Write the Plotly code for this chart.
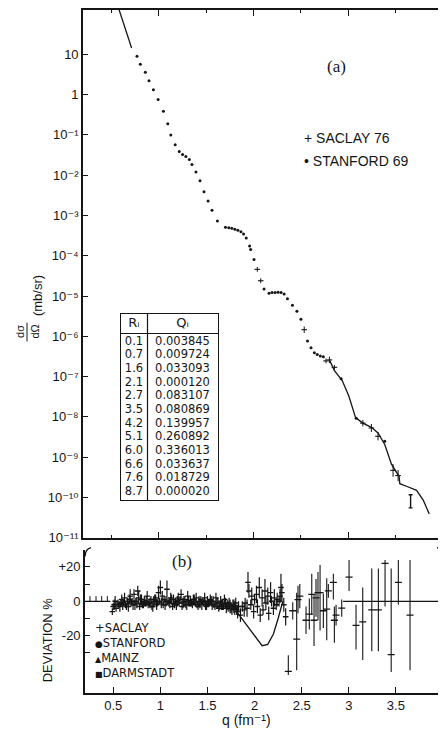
import plotly.graph_objects as go

W, H = 446, 738
PAGE_OFFSET = 8  # default body margin of the written page

# ---- panel (a): elastic cross section -------------------------------------
stanford_q = [0.770, 0.805, 0.858, 0.897, 0.943, 0.993, 1.049, 1.095, 1.127, 1.173,
              1.216, 1.251, 1.286, 1.322, 1.350, 1.392, 1.435, 1.477, 1.520, 1.562,
              1.619, 1.704, 1.739, 1.771, 1.803, 1.835, 1.867, 1.895, 1.923, 1.959,
              1.970, 2.005, 2.111, 2.164, 2.196, 2.228, 2.259, 2.291, 2.323, 2.358,
              2.411, 2.458, 2.500, 2.570, 2.607, 2.642, 2.673, 2.705, 2.737, 2.925,
              3.084, 3.385]
stanford_xs = [8.9, 5.7, 3.6, 2.2, 1.32, 0.755, 0.385, 0.189, 0.100, 0.057,
               0.0385, 0.0325, 0.029, 0.0245, 0.0185, 0.0120, 7.3e-3, 3.9e-3, 2.29e-3, 1.35e-3,
               7.3e-4, 5.1e-4, 4.95e-4, 4.8e-4, 4.55e-4, 4.3e-4, 3.95e-4, 3.45e-4, 2.75e-4, 1.75e-4,
               1.43e-4, 8.1e-5, 1.5e-5, 1.18e-5, 1.22e-5, 1.22e-5, 1.25e-5, 1.22e-5, 1.12e-5, 8.6e-6,
               5.9e-6, 4.2e-6, 2.64e-6, 7.6e-7, 5.2e-7, 3.9e-7, 3.55e-7, 3.25e-7, 3.1e-7, 8.8e-8,
               9.3e-9, 2.5e-9]

saclay_q = [2.040, 2.076, 2.535, 2.765, 2.801, 2.854, 3.154, 3.244, 3.314, 3.473, 3.526]
saclay_xs = [4.6e-5, 2.4e-5, 1.46e-6, 2.45e-7, 2.6e-7, 1.7e-7, 7.0e-9, 5.3e-9, 3.3e-9, 4.7e-10, 3.5e-10]
saclay_err_dec = [0.06, 0.06, 0.08, 0.06, 0.08, 0.06, 0.08, 0.10, 0.10, 0.16, 0.14]

last_q = [3.658]
last_xs = [7.9e-11]
last_hi = [1.17e-10]
last_lo = [5.5e-11]

theory_q = [0.572, 0.625, 0.678, 0.713, None,
            2.801, 2.854, 2.936, 3.006, 3.077, 3.154, 3.244, 3.314, 3.385, 3.456,
            3.537, 3.544, 3.615, 3.721, 3.791, 3.855]
theory_xs = [148, 64, 27.5, 14.3, None,
             2.6e-7, 1.4e-7, 8.0e-8, 3.3e-8, 9.6e-9, 7.0e-9, 5.5e-9, 4.0e-9, 2.07e-9, 6.7e-10,
             3.3e-10, 2.2e-10, 1.9e-10, 1.5e-10, 8.6e-11, 3.9e-11]

decade_vals = [1e-11, 1e-10, 1e-9, 1e-8, 1e-7, 1e-6, 1e-5, 1e-4, 1e-3, 1e-2, 1e-1, 1, 10]
decade_text = ["10⁻¹¹", "10⁻¹⁰", "10⁻⁹", "10⁻⁸", "10⁻⁷", "10⁻⁶", "10⁻⁵", "10⁻⁴",
               "10⁻³", "10⁻²", "10⁻¹", "1", "10"]

table_r = ["0.1", "0.7", "1.6", "2.1", "2.7", "3.5", "4.2", "5.1", "6.0", "6.6", "7.6", "8.7"]
table_qi = ["0.003845", "0.009724", "0.033093", "0.000120", "0.083107", "0.080869",
            "0.139957", "0.260892", "0.336013", "0.033637", "0.018729", "0.000020"]
table_head = ["Rᵢ", "Qᵢ"]

# ---- panel (b): deviation -------------------------------------------------
dense_q = [0.49, 0.51, 0.53, 0.55, 0.57, 0.58, 0.60, 0.62, 0.63, 0.65,
           0.66, 0.68, 0.69, 0.71, 0.72, 0.74, 0.75, 0.77, 0.78, 0.80,
           0.81, 0.83, 0.84, 0.86, 0.87, 0.89, 0.90, 0.92, 0.93, 0.95,
           0.96, 0.98, 0.99, 1.01, 1.02, 1.04, 1.05, 1.07, 1.08, 1.10,
           1.11, 1.13, 1.14, 1.16, 1.17, 1.19, 1.20, 1.22, 1.23, 1.25,
           1.26, 1.28, 1.29, 1.31, 1.32, 1.34, 1.35, 1.37, 1.38, 1.40,
           1.41, 1.43, 1.44, 1.46, 1.47, 1.49, 1.50, 1.52, 1.53, 1.55,
           1.56, 1.58, 1.59, 1.61, 1.62, 1.64, 1.65, 1.67, 1.68, 1.70,
           1.71, 1.73, 1.74, 1.76, 1.77, 1.79, 1.80, 1.82, 1.83, 1.85,
           1.87, 1.89, 1.90, 1.92, 1.93, 1.94, 1.96, 1.97, 1.99, 2.00,
           2.02, 2.03, 2.05, 2.06, 2.08, 2.09, 2.11, 2.12, 2.14, 2.15,
           2.17, 2.18, 2.20, 2.21, 2.23, 2.24, 2.26, 2.27, 2.28, 2.29,
           2.31, 2.33,
           0.50, 0.52, 0.56, 0.59, 0.61, 0.64, 0.67, 0.70, 0.73, 0.76,
           0.79, 0.82, 0.85, 0.88, 0.91, 0.94, 0.97, 1.00, 1.03, 1.06,
           1.09, 1.12, 1.15, 1.18, 1.21, 1.24, 1.27, 1.30, 1.33, 1.36,
           1.39, 1.42, 1.45, 1.48, 1.51, 1.54, 1.57, 1.60, 1.63, 1.66,
           1.69, 1.72, 1.75, 1.78, 1.81]
dense_dev = [-6, -2, -4, -1, -3, -1, -2, 2, -2, 0,
             -3, 3, -1, -2, 4, 0, -1, 2, -3, 1,
             -2, 0, -1, 3, -2, -1, 1, -3, 0, 2,
             -2, 5, 0, -1, 3, 1, -2, 7, 0, -1,
             2, -3, 1, 0, -2, 2, -1, 4, -3, 0,
             1, -2, 3, -1, 0, -2, 1, -1, 2, -3,
             0, 1, -2, -1, 2, -3, 0, -1, 1, -2,
             0, -3, 2, -1, -4, 0, -2, -3, 1, -4,
             -2, -1, -3, -5, -2, -4, -1, -6, -3, -8,
             -3, -5, -1, -4, 11, 6, -2, 3, -6, 1,
             4, -3, 8, -8, 2, -5, 6, -1, 3, -7,
             5, 0, -4, 2, -2, 1, 0, 3, 8, 5,
             -2, -9,
             -3, 0, -2, 1, -1, -3, 1, 0, -2, 6,
             1, -2, 0, -1, -3, 1, -1, 8, -2, 0,
             -1, 1, -2, 0, 1, -1, -2, 0, -1, 1,
             -2, -1, 0, -2, -1, 0, -2, -1, -3, -2,
             -1, -3, -4, -3, -5]
dense_err = [2, 3, 2, 2, 3, 2, 3, 3, 2, 2,
             3, 4, 2, 3, 3, 2, 3, 4, 2, 3,
             2, 3, 2, 3, 2, 3, 2, 3, 3, 2,
             3, 4, 2, 3, 3, 2, 3, 5, 2, 3,
             3, 2, 3, 2, 3, 3, 2, 3, 2, 3,
             2, 3, 3, 2, 3, 2, 3, 2, 3, 2,
             3, 2, 3, 2, 3, 2, 3, 2, 3, 3,
             3, 2, 3, 3, 2, 3, 3, 2, 3, 3,
             3, 3, 4, 3, 3, 4, 3, 4, 3, 4,
             3, 4, 3, 5, 6, 4, 3, 5, 4, 3,
             5, 4, 6, 4, 5, 3, 7, 4, 5, 4,
             6, 3, 4, 5, 3, 4, 3, 4, 8, 5,
             4, 5,
             2, 3, 2, 3, 2, 2, 3, 2, 3, 3,
             3, 2, 3, 2, 2, 3, 2, 4, 2, 3,
             2, 3, 2, 3, 2, 3, 2, 3, 2, 3,
             2, 3, 2, 3, 2, 3, 2, 3, 2, 3,
             3, 3, 3, 4, 3]

sparse_q = [2.358, 2.405, 2.447, 2.461, 2.480, 2.546, 2.581, 2.607, 2.631, 2.652,
            2.673, 2.695, 2.730, 2.766, 2.783, 2.836, 2.847, 2.865, 2.925, 3.003,
            3.077, 3.148, 3.244, 3.314, 3.385, 3.450, 3.526, 3.650]
sparse_dev = [-40.7, -5.5, -22, 1, 3, -11, -7.4, 4, -11, 2,
              5, 5, -5.5, -4.6, 6, 11, -11, -8, -4, 14,
              -14, -12, -5, -5, 22, -31, 11, -8]
sparse_up = [9.4, 5, 27, 8, 7, 8, 9, 12, 15, 11,
             12, 16, 10, 18, 4, 5, 8, 6, 5, 10,
             12, 20, 24, 24, 2, 50, 13, 32]
sparse_dn = [2, 5, 18, 8, 7, 8, 9, 12, 15, 11,
             16, 22, 10, 18, 4, 10, 13, 6, 5, 8,
             14, 22, 24, 24, 25, 10, 13, 32]

darm_q = [0.253, 0.317, 0.377, 0.437]
darm_dev = [0, 0, 0, 0]
darm_up = [3, 3, 3, 3]

fit_q = [0.2, 0.47, None,
         1.76, 1.78, 1.83, 1.92, 2.01, 2.08, 2.14, 2.20, 2.25, 2.29, 2.30, None,
         2.94, 4.0]
fit_dev = [0, 0, None,
           -2, -3, -7.5, -14, -21, -25.8, -25, -19, -10, -3, 0, None,
           0, 0]


def px(x):
    return min(1.0, max(0.0, (x - PAGE_OFFSET) / W))


def py(y):
    return min(1.0, max(0.0, 1 - (y - PAGE_OFFSET) / H))


INK = "#151515"
SANS = "Liberation Sans, DejaVu Sans, Arial, sans-serif"
WIDE = "DejaVu Sans, Verdana, sans-serif"
SERIF = "Liberation Serif, Times New Roman, serif"

fig = go.Figure()

# (a)
fig.add_trace(go.Scatter(x=theory_q, y=theory_xs, mode="lines",
                         line=dict(color=INK, width=1.3), xaxis="x", yaxis="y",
                         showlegend=False, connectgaps=False))
fig.add_trace(go.Scatter(x=stanford_q, y=stanford_xs, mode="markers",
                         marker=dict(symbol="circle", size=3, color=INK),
                         xaxis="x", yaxis="y", showlegend=False))
fig.add_trace(go.Scatter(
    x=saclay_q, y=saclay_xs, mode="markers",
    marker=dict(symbol="line-ew", size=4, line=dict(color=INK, width=1.1)),
    error_y=dict(type="data", symmetric=False,
                 array=[v * (10 ** d - 1) for v, d in zip(saclay_xs, saclay_err_dec)],
                 arrayminus=[v * (1 - 10 ** -d) for v, d in zip(saclay_xs, saclay_err_dec)],
                 color=INK, thickness=1, width=0),
    xaxis="x", yaxis="y", showlegend=False))
fig.add_trace(go.Scatter(
    x=last_q, y=last_xs, mode="markers", marker=dict(size=1, color=INK),
    error_y=dict(type="data", symmetric=False,
                 array=[h - v for h, v in zip(last_hi, last_xs)],
                 arrayminus=[v - lo for v, lo in zip(last_xs, last_lo)],
                 color=INK, thickness=1.4, width=2),
    xaxis="x", yaxis="y", showlegend=False))

# R_i / Q_i table, drawn as text on its own small axes (row index downwards)
rows = list(range(len(table_r)))
fig.add_trace(go.Scatter(x=[13] * len(rows), y=rows, mode="text", text=table_r,
                         textfont=dict(family=WIDE, size=11.5, color=INK),
                         xaxis="x3", yaxis="y3", showlegend=False, hoverinfo="skip"))
fig.add_trace(go.Scatter(x=[61.5] * len(rows), y=rows, mode="text", text=table_qi,
                         textfont=dict(family=WIDE, size=11.5, color=INK),
                         xaxis="x3", yaxis="y3", showlegend=False, hoverinfo="skip"))
fig.add_trace(go.Scatter(x=[13, 61.5], y=[-1.35, -1.35], mode="text", text=table_head,
                         textfont=dict(family=WIDE, size=13, color=INK),
                         xaxis="x3", yaxis="y3", showlegend=False, hoverinfo="skip"))

# (b)
fig.add_trace(go.Scatter(x=fit_q, y=fit_dev, mode="lines",
                         line=dict(color=INK, width=1.3), xaxis="x2", yaxis="y2",
                         showlegend=False, connectgaps=False))
fig.add_trace(go.Scatter(
    x=darm_q, y=darm_dev, mode="markers", marker=dict(size=1, color=INK),
    error_y=dict(type="data", symmetric=False, array=darm_up, arrayminus=darm_dev,
                 color=INK, thickness=1, width=0),
    xaxis="x2", yaxis="y2", showlegend=False))
fig.add_trace(go.Scatter(
    x=dense_q, y=dense_dev, mode="markers",
    marker=dict(symbol="line-ew", size=4, line=dict(color=INK, width=1.4)),
    error_y=dict(type="data", array=dense_err, color=INK, thickness=1.2, width=0),
    xaxis="x2", yaxis="y2", showlegend=False))
fig.add_trace(go.Scatter(
    x=sparse_q, y=sparse_dev, mode="markers",
    marker=dict(symbol="line-ew", size=5, line=dict(color=INK, width=1.3)),
    error_y=dict(type="data", symmetric=False, array=sparse_up, arrayminus=sparse_dn,
                 color=INK, thickness=1.1, width=0),
    xaxis="x2", yaxis="y2", showlegend=False))

axis_common = dict(showline=True, linecolor=INK, linewidth=1.6, ticks="inside",
                   tickcolor=INK, tickwidth=1.2, showgrid=False, zeroline=False,
                   tickfont=dict(family=SANS, size=13, color=INK))
hidden = dict(showgrid=False, zeroline=False, showticklabels=False, ticks="",
              showline=True, mirror=True, linecolor=INK, linewidth=1.2)

fig.update_layout(
    width=W, height=H,
    margin=dict(l=0, r=0, t=0, b=0),
    paper_bgcolor="white", plot_bgcolor="rgba(0,0,0,0)",
    xaxis=dict(axis_common, domain=[px(83), px(443)], range=[0.2, 4.0], anchor="y",
               tickvals=[1, 2, 3], ticklen=6, showticklabels=False, mirror="ticks",
               minor=dict(dtick=0.5, tick0=0, ticks="inside", ticklen=3, tickcolor=INK)),
    # top of the frame sits at the very top of the figure (page y = 8)
    yaxis=dict(axis_common, domain=[py(543), py(8)], type="log", range=[-11, 2.10],
               anchor="x", tickvals=decade_vals, ticktext=decade_text, ticklen=5,
               mirror="ticks"),
    xaxis2=dict(axis_common, domain=[px(85), px(443)], range=[0.2, 4.0], anchor="y2",
                tickvals=[0.5, 1, 1.5, 2, 2.5, 3, 3.5],
                ticktext=["0.5", "1", "1.5", "2", "2.5", "3", "3.5"], ticklen=6),
    yaxis2=dict(axis_common, domain=[py(700), py(555)], range=[-53, 30], anchor="x2",
                tickvals=[-20, 0, 20], ticktext=["-20", "0", "+20"], ticklen=5,
                mirror=True,
                minor=dict(tickvals=[-30, -10, 10], ticks="inside", ticklen=5,
                           tickcolor=INK, tickwidth=1.2)),
    xaxis3=dict(hidden, domain=[px(121), px(218)], range=[0, 97], anchor="y3"),
    yaxis3=dict(hidden, domain=[py(505), py(316)], range=[11.6, -2.04], anchor="x3"),
)

# table rules: column divider and line under the header
fig.add_shape(type="line", xref="x3", yref="y3", x0=26.5, x1=26.5, y0=-2.04, y1=11.6,
              line=dict(color=INK, width=1.2))
fig.add_shape(type="line", xref="x3", yref="y3", x0=0, x1=97, y0=-0.6, y1=-0.6,
              line=dict(color=INK, width=1.2))

# curls at top of panel (b) axes
fig.add_shape(type="path", xref="paper", yref="paper",
              path=f"M {px(85)} {py(562)} C {px(85)} {py(557)}, {px(87)} {py(554)}, {px(91)} {py(553)}",
              line=dict(color=INK, width=1.5))
fig.add_shape(type="path", xref="paper", yref="paper",
              path=f"M {px(443)} {py(562)} C {px(443)} {py(557)}, {px(441)} {py(554)}, {px(437)} {py(553)}",
              line=dict(color=INK, width=1.5))
# fraction bar of the y title
fig.add_shape(type="line", xref="paper", yref="paper", x0=px(27), x1=px(27),
              y0=py(344), y1=py(325), line=dict(color=INK, width=1))


def note(text, x, y, size=13, family=SANS, angle=0, xanchor="center", align="center"):
    fig.add_annotation(text=text, x=px(x), y=py(y), xref="paper", yref="paper",
                       showarrow=False, textangle=angle, xanchor=xanchor, yanchor="middle",
                       align=align, font=dict(family=family, size=size, color=INK))


note("(a)", 336, 65, size=17, family=SERIF)
note("+ SACLAY 76", 302, 138, size=14, xanchor="left")
note("• STANFORD 69", 302, 161, size=14, xanchor="left")
note("dσ<br>dΩ", 27, 334, size=11, angle=-90)
note("(mb/sr)", 37, 297, size=13, angle=-90)
note("(b)", 182, 567, size=17, family=SERIF)
note("+SACLAY<br>"
     "<span style='font-size:9px'>●</span>STANFORD<br>"
     "<span style='font-size:8px'>▲</span>MAINZ<br>"
     "<span style='font-size:8px'>■</span>DARMSTADT",
     93, 657, size=11.5, family=WIDE, xanchor="left", align="left")
note("DEVIATION %", 47, 647, size=13, angle=-90)
note("q (fm⁻¹)", 246, 728, size=14)

fig.write_html("out.html")
